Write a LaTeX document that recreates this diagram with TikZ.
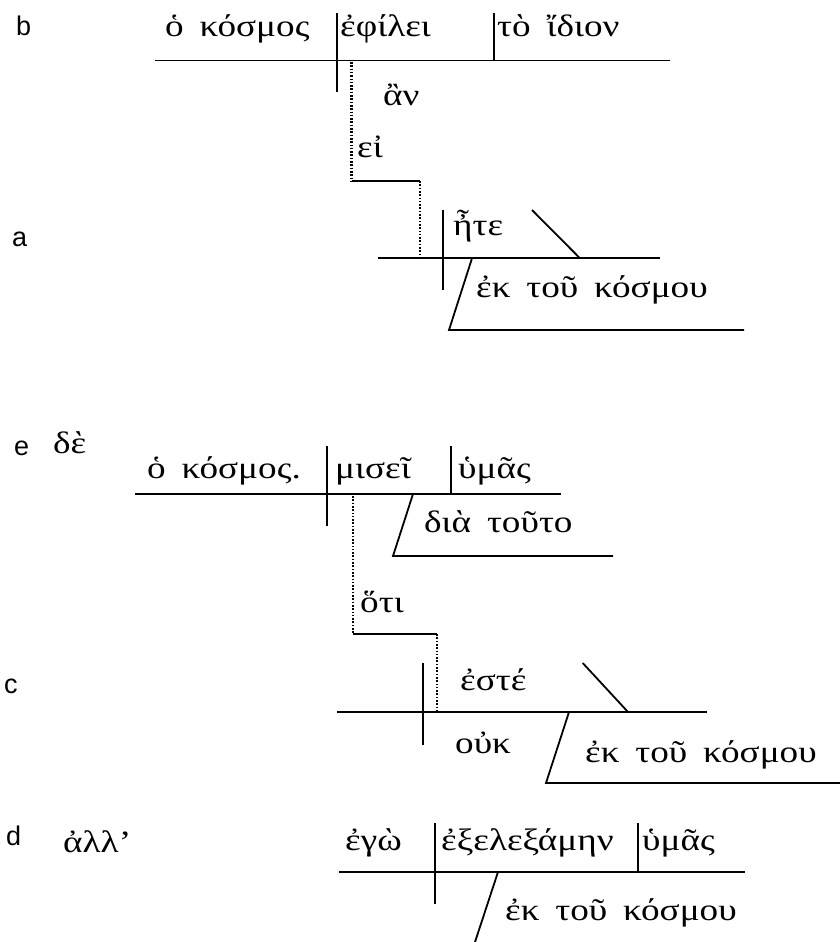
\documentclass[tikz,border=0pt]{standalone}
\usepackage{fontspec}
\setmainfont[FakeStretch=1.2,WordSpace=1.7]{Liberation Serif}
\newfontfamily\lblfont{Liberation Sans}
\begin{document}
\begin{tikzpicture}[x=1pt,y=-1pt,
  gk/.style={anchor=base west,inner sep=0pt,font=\fontsize{31}{33}\selectfont},
  lbl/.style={anchor=base west,inner sep=0pt,font=\lblfont\fontsize{27}{29}\selectfont},
  ln/.style={line width=1.8pt},
  dl/.style={line width=2.6pt,dash pattern=on 1.6pt off 1.7pt}]
\useasboundingbox (0,0) rectangle (840,942);
% labels
\node[lbl] (lb) at (16,36) {b};
\node[lbl] (la) at (12,246) {a};
\node[lbl] (le) at (14,455) {e};
\node[lbl] (lc) at (4,693) {c};
\node[lbl] (ld) at (6,845) {d};
% row b
\draw[ln] (155,60.5) -- (670,60.5);
\draw[ln] (336.7,13) -- (336.7,92);
\draw[ln] (494,13) -- (494,60.5);
\draw[dl] (351.7,62) -- (351.7,181);
\draw[ln] (351.7,181) -- (420,181);
\draw[dl] (420,181) -- (420,257);
\node[gk] (b1) at (165,37) {ὁ κόσμος};
\node[gk] (b2) at (340,37) {ἐφίλει};
\node[gk] (b3) at (497,37) {τὸ ἴδιον};
\node[gk] (b4) at (383,105) {ἂν};
\node[gk] (b5) at (357,157) {εἰ};
% row a
\draw[ln] (378,258.3) -- (660,258.3);
\draw[ln] (442.7,210) -- (442.7,290);
\draw[ln] (532,210) -- (580,258.3);
\draw[ln] (472,258.3) -- (449,330) -- (744,330);
\node[gk] (a1) at (453,235) {ἦτε};
\node[gk] (a2) at (476,297) {ἐκ τοῦ κόσμου};
% row e
\node[gk] (e0) at (53,453) {δὲ};
\draw[ln] (135,494) -- (561,494);
\draw[ln] (326.7,446) -- (326.7,526);
\draw[ln] (450.7,446) -- (450.7,494);
\draw[ln] (413,494) -- (393,556) -- (613,556);
\draw[dl] (353,496) -- (353,634);
\draw[ln] (353,634) -- (437,634);
\draw[dl] (437,634) -- (437,710);
\node[gk] (e1) at (147,478) {ὁ κόσμος.};
\node[gk] (e2) at (335,478) {μισεῖ};
\node[gk] (e3) at (458,478) {ὑμᾶς};
\node[gk] (e4) at (424,532) {διὰ τοῦτο};
\node[gk] (e5) at (360,612) {ὅτι};
% row c
\draw[ln] (337,712) -- (707,712);
\draw[ln] (422.7,663) -- (422.7,745);
\draw[ln] (582.7,663) -- (628,712);
\draw[ln] (569,712) -- (546,783) -- (840,783);
\node[gk] (c1) at (460,690) {ἐστέ};
\node[gk] (c2) at (455,753) {οὐκ};
\node[gk] (c3) at (585,762) {ἐκ τοῦ κόσμου};
% row d
\node[gk] (d0) at (63,852) {ἀλλ’};
\draw[ln] (339,872) -- (745,872);
\draw[ln] (435,823) -- (435,904);
\draw[ln] (638,823) -- (638,872);
\draw[ln] (498,872) -- (475,942);
\node[gk] (d1) at (345,850) {ἐγὼ};
\node[gk] (d2) at (441,850) {ἐξελεξάμην};
\node[gk] (d3) at (642,850) {ὑμᾶς};
\node[gk] (d4) at (505,920) {ἐκ τοῦ κόσμου};
\end{tikzpicture}
\end{document}
